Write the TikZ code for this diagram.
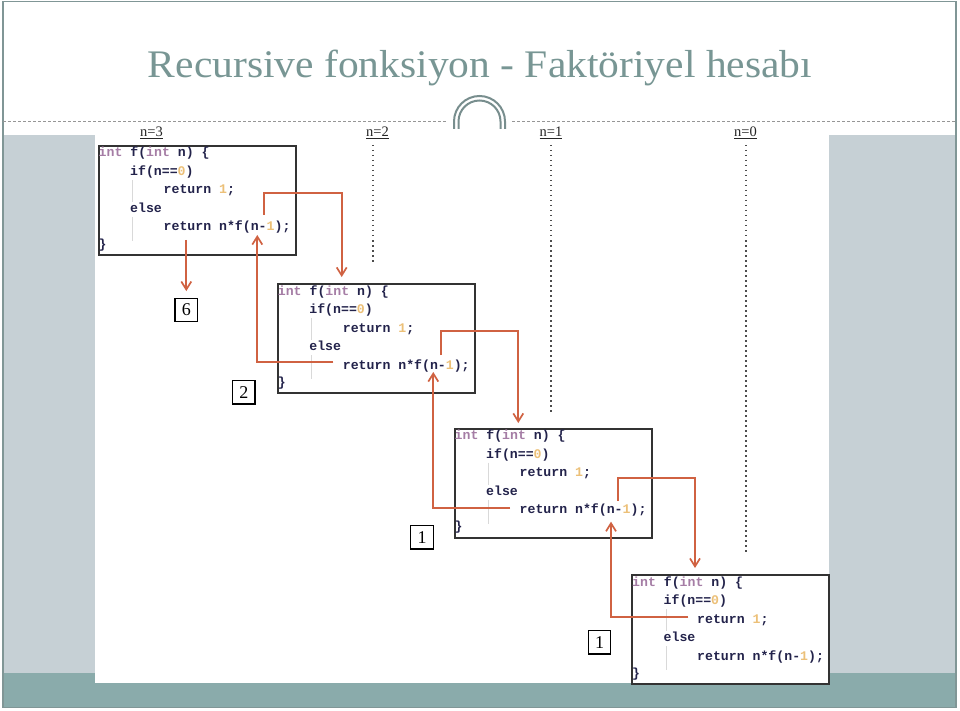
\documentclass[tikz,border=0pt]{standalone}
\usepackage{graphicx}
\usepackage{fontspec}
\setmainfont{Liberation Serif}
\newfontfamily\codefont{Liberation Mono}
\usetikzlibrary{arrows.meta}
\definecolor{frameC}{RGB}{128,150,150}
\definecolor{titleC}{RGB}{120,150,148}
\definecolor{panelC}{RGB}{198,208,213}
\definecolor{bandC}{RGB}{138,171,171}
\definecolor{arrC}{RGB}{208,98,66}
\definecolor{codeC}{RGB}{35,35,75}
\definecolor{intC}{RGB}{165,125,165}
\definecolor{numC}{RGB}{236,192,120}
\definecolor{ornC}{RGB}{120,142,142}
\definecolor{dashC}{RGB}{150,150,150}
\tikzset{
 codebox/.style={draw=black!80, line width=2pt, minimum width=197pt, minimum height=109pt, inner sep=0pt, anchor=north west},
 codeline/.style={anchor=base west, inner sep=0pt, font=\codefont\bfseries\fontsize{13.2}{15}\selectfont, text=codeC},
 resbox/.style={draw=black, line width=1.3pt, minimum width=22.5pt, minimum height=23.5pt, inner sep=0pt, font=\fontsize{18}{20}\selectfont},
 nlabel/.style={inner sep=0pt, anchor=base, font=\fontsize{14.5}{16}\selectfont, text=black!85},
 arr/.style={draw=arrC, line width=1.7pt, -{Straight Barb[length=8pt,width=10pt]}},
 dotline/.style={draw=black!70, line width=1.6pt, dash pattern=on 1.5pt off 3.5pt},
 guide/.style={draw=black!15, line width=0.8pt},
}
\newcommand\codeblock[3]{%
 \node[codebox] (#1) at (#2,#3) {};
 \begin{scope}[shift={(#2,#3)}]
  \draw[guide] (35,35) -- (35,57) (35,72) -- (35,96);
  \node[codeline] (#1la) at (1,12) {\textcolor{intC}{int} f(\textcolor{intC}{int} n) \{};
  \node[codeline] (#1lb) at (32.5,30.5) {if(n==\textcolor{numC}{0})};
  \node[codeline] (#1lc) at (66,49) {return \textcolor{numC}{1};};
  \node[codeline] (#1ld) at (32.5,67.5) {else};
  \node[codeline] (#1le) at (66,86) {return n*f(n-\textcolor{numC}{1});};
  \node[codeline] (#1lf) at (1,103) {\}};
 \end{scope}}
\begin{document}
\begin{tikzpicture}[x=1pt,y=-1pt]
\useasboundingbox (0,0) rectangle (960,711);
\fill[white] (0,0) rectangle (960,711);
% slide background
\fill[panelC] (3,135) rectangle (95,673);
\fill[panelC] (829,135) rectangle (956,673);
\fill[bandC] (3,673) rectangle (956,707.5);
\fill[white] (95,135) rectangle (829,683);
\draw[frameC, line width=1.2pt] (3,1.5) rectangle (956,707.5);
% dashed rule and ornament
\draw[dashC, line width=1pt, dash pattern=on 3pt off 2pt] (3,122) -- (446,122) (512,122) -- (956,122);
\draw[ornC, line width=2pt] (454,129) -- (454,121.5) arc[start angle=180, end angle=360, radius=25.5] -- (505,129);
\draw[ornC, line width=2pt] (458.5,129) -- (458.5,121.5) arc[start angle=180, end angle=360, radius=21] -- (500.5,129);
% title
\node[anchor=base, inner sep=0pt, text=titleC] (title) at (480,78) {\resizebox{664pt}{27.5pt}{Recursive fonksiyon - Faktöriyel hesabı}};
% n labels
\node[nlabel] (n3) at (151.5,137) {\underline{n=3}};
\node[nlabel] (n2) at (377.5,137) {\underline{n=2}};
\node[nlabel] (n1) at (551,137) {\underline{n=1}};
\node[nlabel] (n0) at (745.5,137) {\underline{n=0}};
\coordinate (d2a) at (373,145); \coordinate (d2b) at (373,265);
\coordinate (d1a) at (550.7,145); \coordinate (d1b) at (550.7,412);
\coordinate (d0a) at (745.7,145); \coordinate (d0b) at (745.7,555);
\draw[dotline] (d2a) -- (d2b);
\draw[dotline] (d1a) -- (d1b);
\draw[dotline] (d0a) -- (d0b);
% code boxes
\codeblock{b1}{97.5}{145}
\codeblock{b2}{276.7}{283.3}
\codeblock{b3}{453.5}{427.7}
\codeblock{b4}{631}{574}
% result boxes
\node[resbox] (r6) at (186.3,310) {6};
\node[resbox] (r2) at (243.8,392.3) {2};
\node[resbox] (r1a) at (422,537.2) {1};
\node[resbox] (r1b) at (599.5,642.2) {1};
% call arrows
\coordinate (c1s) at (264.3,215); \coordinate (c1k) at (341.7,193.3); \coordinate (c1e) at (341.7,277);
\coordinate (c2s) at (440.7,355); \coordinate (c2k) at (518.3,331); \coordinate (c2e) at (518.3,423);
\coordinate (c3s) at (618.3,500.7); \coordinate (c3k) at (695,478.3); \coordinate (c3e) at (695,568);
\draw[arr] (c1s) |- (c1k) -- (c1e);
\draw[arr] (c2s) |- (c2k) -- (c2e);
\draw[arr] (c3s) |- (c3k) -- (c3e);
% return arrows
\coordinate (rt1s) at (333.3,361.7); \coordinate (rt1e) at (257.3,235);
\coordinate (rt2s) at (510,508.3); \coordinate (rt2e) at (433.3,372);
\coordinate (rt3s) at (688.3,616.7); \coordinate (rt3e) at (611,521.7);
\draw[arr] (rt1s) -| (rt1e);
\draw[arr] (rt2s) -| (rt2e);
\draw[arr] (rt3s) -| (rt3e);
% result arrow
\coordinate (o1s) at (186.3,240);
\draw[arr, shorten >=6.5pt] (o1s) -- (r6);
\end{tikzpicture}
\end{document}
